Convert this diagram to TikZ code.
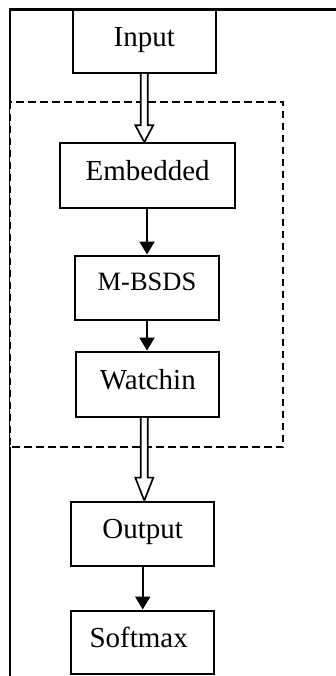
\documentclass[tikz,border=0pt]{standalone}
\usepackage{fontspec}
\setmainfont{Liberation Serif}
\usetikzlibrary{arrows.meta,calc}
\begin{document}
\begin{tikzpicture}[x=1pt,y=-1pt,
  block/.style={draw,line width=2.2pt,fill=white,inner sep=0pt,
    minimum width=143.3pt,minimum height=64pt,
    font=\fontsize{29}{34}\selectfont,text height=19pt,text depth=9pt},
  frameline/.style={line width=2.2pt},
  group/.style={draw,fill=white,line width=1.8pt,dash pattern=on 7.5pt off 4.5pt},
  flow/.style={line width=2pt,-{Triangle[length=13pt,width=15pt]}},
  hollow/.style={line width=1.7pt,fill=white,line join=miter}
]
\useasboundingbox (0,0) rectangle (336,676);

% outer frame (top and left sides only)
\draw[frameline] (336,9.5) -- (10,9.5) -- (10,676);

% dashed group around the inner stages
\draw[group] (10,101.7) rectangle (283.3,447.3);

% stages
\node[block,minimum height=63.2pt] (in) at (144.3,41.1) {Input};
\node[block,minimum width=175.3pt,minimum height=65pt] (emb) at (147.7,175.8) {Embedded};
\node[block,minimum width=143.4pt,minimum height=64.3pt,
      font=\fontsize{26.5}{31}\selectfont,text height=17.5pt,text depth=11.7pt]
      (mb) at (147,287.8) {M-BSDS};
\node[block,minimum width=143pt,minimum height=65pt] (wat) at (147.8,384.2) {Watchin};
\node[block] (out) at (142.7,533.7) {Output};
\node[block,minimum height=63.3pt] (soft) at (142.7,642.3) {Softmax\hspace*{8pt}};

% hollow double-shaft arrows
\coordinate (a1s) at (in.south);
\coordinate (a1t) at (in.south |- emb.north);
\draw[hollow] ($(a1s)+(-3.5,0)$) -- ($(a1t)+(-3.5,-17)$) -- ($(a1t)+(-9,-17)$)
  -- (a1t) -- ($(a1t)+(9,-17)$) -- ($(a1t)+(3.5,-17)$) -- ($(a1s)+(3.5,0)$);

\coordinate (a2s) at (in.south |- wat.south);
\coordinate (a2t) at (in.south |- out.north);
\draw[hollow] ($(a2s)+(-3.5,0)$) -- ($(a2t)+(-3.5,-23)$) -- ($(a2t)+(-9,-23)$)
  -- (a2t) -- ($(a2t)+(9,-23)$) -- ($(a2t)+(3.5,-23)$) -- ($(a2s)+(3.5,0)$);

% solid arrows
\draw[flow] (mb.north |- emb.south) -- (mb.north);
\draw[flow] (mb.south) -- (mb.south |- wat.north);
\draw[flow] (out.south) -- (soft.north);
\end{tikzpicture}
\end{document}
